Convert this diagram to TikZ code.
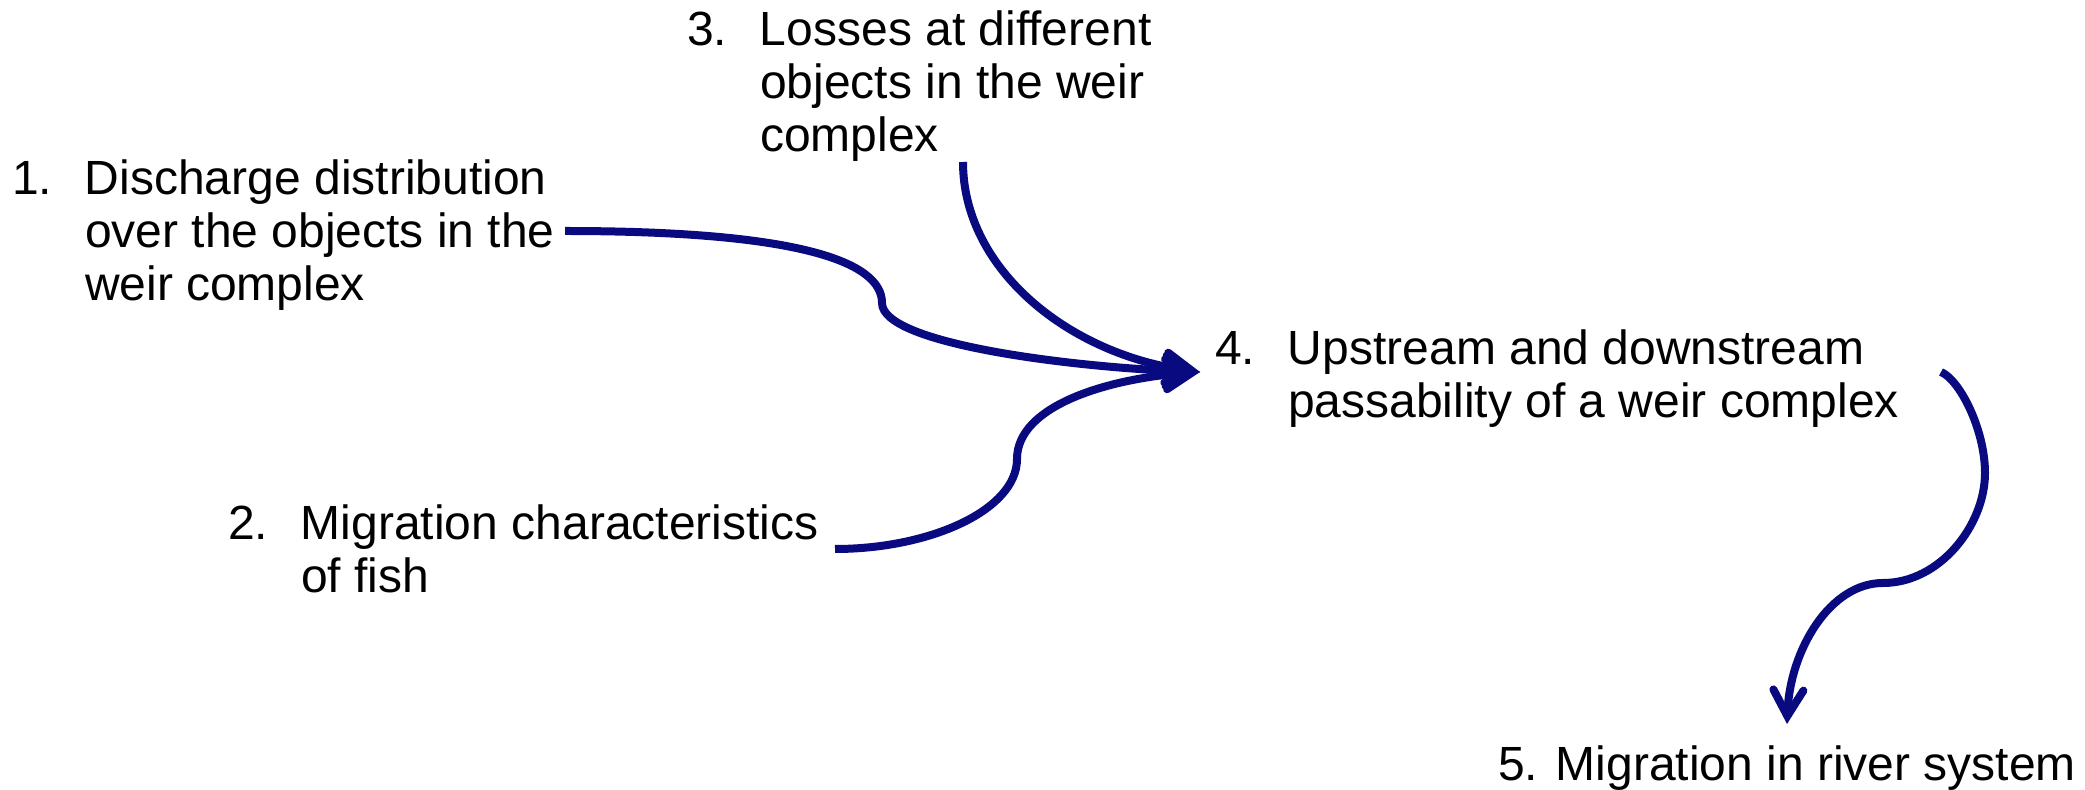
\documentclass[tikz,border=0pt]{standalone}
\usepackage{fontspec}
\setmainfont{Liberation Sans}
\usetikzlibrary{arrows.meta}
\definecolor{flownavy}{RGB}{10,10,128}
\tikzset{
  item/.style={inner sep=0pt, outer sep=0pt, anchor=base west,
    font=\fontsize{24}{26.5}\selectfont},
  flow/.style={draw=flownavy, line width=4pt, line cap=butt,
    -{Straight Barb[length=13pt, width=15pt, line cap=round, line join=miter]}}
}
\newcommand{\itemlist}[2]{\begin{tabular}[t]{@{}p{36.5pt}@{}l@{}}#1&#2\end{tabular}}
\begin{document}
\begin{tikzpicture}[x=0.5pt, y=-0.5pt]
  \useasboundingbox (0,0) rectangle (2085,790);

  % items
  \node[item] (d1) at (12,195) {\itemlist{1.}{Discharge distribution\\&over the objects in the\\&weir complex}};
  \node[item] (d2) at (228,540) {\itemlist{2.}{Migration characteristics\\&of fish}};
  \node[item] (d3) at (687,46) {\itemlist{3.}{Losses at different\\&objects in the weir\\&complex}};
  \node[item] (d4) at (1215,365) {\itemlist{4.}{Upstream and downstream\\&passability of a weir complex}};
  \node[item] (d5) at (1498,781) {5. Migration in river system};

  % connector ends
  \coordinate (s1) at (565,231);
  \coordinate (s2) at (835,549);
  \coordinate (s3) at (963,162);
  \coordinate (t4) at (1200,372);
  \coordinate (s4) at (1941,372);
  \coordinate (t5) at (1787,724);

  % flows into item 4
  \draw[flow] (s1) .. controls (800,231) and (882,262) .. (882,303)
                   .. controls (882,345) and (1080,368) .. (t4);
  \draw[flow] (s2) .. controls (930,549) and (1017,510) .. (1017,459)
                   .. controls (1017,405) and (1110,378) .. (t4);
  \draw[flow] (s3) .. controls (963,270) and (1070,355) .. (t4);

  % flow from item 4 to item 5
  \draw[flow] (s4) .. controls (1960,380) and (1985,430) .. (1985,473)
                   .. controls (1985,525) and (1940,583) .. (1883,583)
                   .. controls (1830,583) and (1790,650) .. (t5);
\end{tikzpicture}
\end{document}
